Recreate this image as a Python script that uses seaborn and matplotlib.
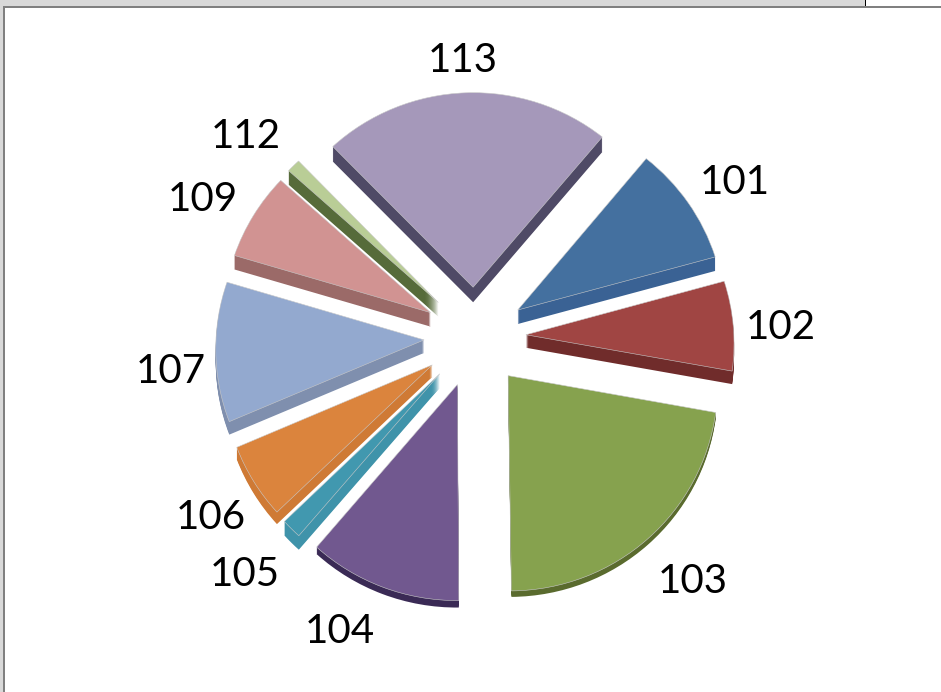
import matplotlib
matplotlib.use("Agg")
import numpy as np
import matplotlib.pyplot as plt
from matplotlib.patches import Rectangle
from matplotlib.transforms import Transform
import seaborn as sns

categories = ["101", "102", "103", "104", "105", "106", "107", "109", "112", "113"]
values = [35.0, 25.7, 80.0, 41.5, 5.5, 21.0, 40.0, 25.5, 4.0, 85.0]

top_colors = sns.color_palette(["#44709f", "#a04543", "#86a24e", "#71588f", "#4198af",
                                "#db843d", "#93a9cf", "#d19392", "#b9cd96", "#a598ba"])
side_colors = sns.color_palette(["#3a6294", "#702c2b", "#5a6b2e", "#3a2a55", "#3f93aa",
                                 "#cf7a35", "#7f8fae", "#9b6a68", "#566b3a", "#4f4a66"])
side_depth = [14, 13, 6, 7, 14, 12, 13, 14, 14, 15]
label_nudge = [(5, -7), (-4, -4), (8, -1), (-22, 8), (-8, -5),
               (3, -6), (8, -17), (-7, -8), (-13, -4), (-1, -16)]

sns.set_theme(style="white")
plt.rcParams["font.family"] = ["Lato", "DejaVu Sans"]

W, H = 941, 692
OX, OY, SY, K = 475, -337, 0.985, 0.00017


class Tilt(Transform):
    """Perspective of the tilted 3D pie; far side (top) slightly smaller."""
    input_dims = output_dims = 2
    is_separable = False

    def __init__(self, drop=0.0):
        super().__init__()
        self.drop = drop

    def transform_non_affine(self, xy):
        xy = np.asarray(xy, dtype=float)
        s = 1.0 / (1.0 + K * xy[:, 1])
        return np.column_stack([OX + xy[:, 0] * s, OY - self.drop + xy[:, 1] * SY * s])


fig = plt.figure(figsize=(W / 100, H / 100), dpi=100, facecolor="white")
ax = fig.add_axes([0, 0, 1, 1])

R, EXP = 208, 51
START = 50.0
explode = [EXP] * len(values)

# extruded side of the 3D pie
for d in range(max(side_depth), 0, -1):
    cols = [c if d <= s else (0, 0, 0, 0) for c, s in zip(side_colors, side_depth)]
    side_wedges, _ = ax.pie(values, explode=explode, colors=cols, startangle=START,
                            counterclock=False, radius=R, wedgeprops={"linewidth": 0}, frame=True)
    for w in side_wedges:
        w.set_transform(Tilt(d) + ax.transData)

wedges, texts = ax.pie(values, explode=explode, colors=top_colors, labels=categories,
                       labeldistance=1.25, startangle=START, counterclock=False,
                       radius=R, frame=True,
                       wedgeprops={"linewidth": 0.4, "edgecolor": "#c9c9c9"},
                       textprops={"fontsize": 29, "color": "black", "ha": "center", "va": "center"})
for a in wedges:
    a.set_transform(Tilt() + ax.transData)
for t, (dx, dy) in zip(texts, label_nudge):
    x, y = t.get_position()
    t.set_position((x + dx, y + dy))
    t.set_transform(Tilt() + ax.transData)

ax.set_xlim(0, W)
ax.set_ylim(-H, 0)
ax.set_aspect("equal")
ax.axis("off")

# window furniture around the plot area
furn = dict(transform=ax.transData, clip_on=False, linewidth=0)
ax.add_patch(Rectangle((0, -6), 866, 6, facecolor="#d9d9d9", **furn))
ax.add_patch(Rectangle((0, -H), 3, H, facecolor="#d9d9d9", **furn))
ax.add_patch(Rectangle((3, -8), W, 2.4, facecolor="#808080", **furn))
ax.add_patch(Rectangle((3, -H), 2.4, H - 6, facecolor="#808080", **furn))
ax.add_patch(Rectangle((865, -6), 1.2, 6, facecolor="black", **furn))

fig.savefig("out.png", dpi=100)
